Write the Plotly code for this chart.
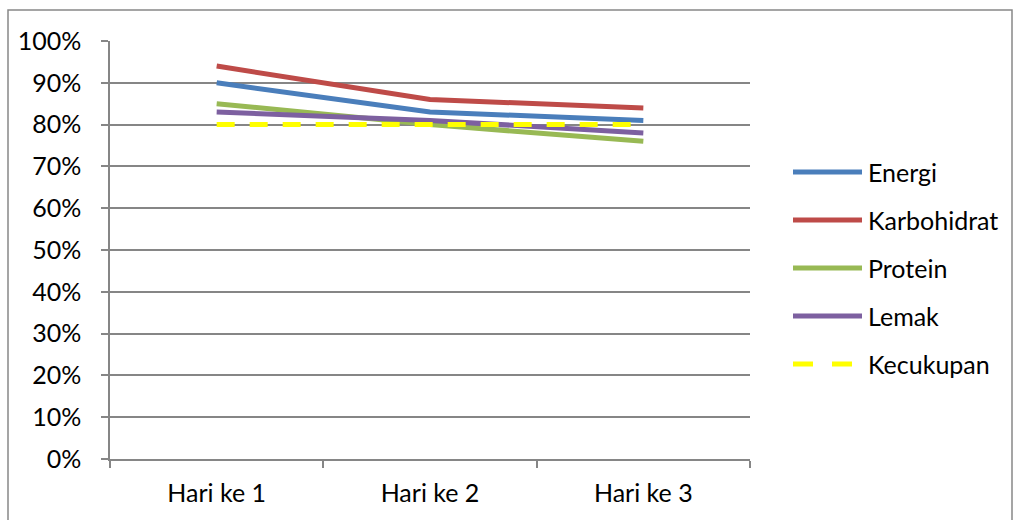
import plotly.graph_objects as go

# Persentase kecukupan gizi per hari
hari = ["Hari ke 1", "Hari ke 2", "Hari ke 3"]
energi = [0.90, 0.83, 0.81]
karbohidrat = [0.94, 0.86, 0.84]
protein = [0.85, 0.80, 0.76]
lemak = [0.83, 0.81, 0.78]
kecukupan = [0.80, 0.80, 0.80]

series_names = ["Energi", "Karbohidrat", "Protein", "Lemak", "Kecukupan"]
series_values = [energi, karbohidrat, protein, lemak, kecukupan]
series_colors = ["#4A7EBB", "#BE4B48", "#98B954", "#7D60A0", "#FFFF00"]
series_dash = ["solid", "solid", "solid", "solid", "18px,15px"]

FONT = "Lato"
FSIZE = 25
GRID = "#868686"

W, H = 1013, 520
L, R, T, B = 110, 263, 41, 61
plot_w, plot_h = W - L - R, H - T - B

fig = go.Figure()
for name, vals, col, dash in zip(series_names, series_values, series_colors, series_dash):
    fig.add_trace(go.Scatter(
        x=hari, y=vals, name=name, mode="lines",
        line=dict(color=col, width=5, dash=dash),
        showlegend=False,
    ))

# Legend drawn by hand: long line samples with labels to the right
leg_x0, leg_x1, leg_text = 793, 862, 866
leg_y = [172, 220, 268, 316, 364]
for name, col, dash, yp in zip(series_names, series_colors, series_dash, leg_y):
    py = (H - B - yp) / plot_h
    fig.add_shape(type="line", xref="paper", yref="paper",
                  x0=(leg_x0 - L) / plot_w, x1=(leg_x1 - L) / plot_w, y0=py, y1=py,
                  line=dict(color=col, width=5,
                            dash="20px,19px" if dash != "solid" else "solid"))
    fig.add_annotation(xref="paper", yref="paper",
                       x=(leg_text - L) / plot_w, y=py, text=name,
                       showarrow=False, xanchor="left", yanchor="middle",
                       font=dict(family=FONT, size=FSIZE, color="#000000"))

# Outer chart frame
fig.add_shape(type="rect", xref="paper", yref="paper",
              x0=(8 - L) / plot_w, x1=(1012 - L) / plot_w,
              y0=(H - B - 540) / plot_h, y1=(H - B - 10) / plot_h,
              line=dict(color="#888888", width=1.5), fillcolor="rgba(0,0,0,0)", layer="below")

fig.update_layout(
    width=W, height=H,
    margin=dict(l=L, r=R, t=T, b=B),
    paper_bgcolor="white", plot_bgcolor="white",
    font=dict(family=FONT, size=FSIZE, color="#000000"),
    xaxis=dict(
        type="category", range=[-0.5, 2.5],
        showline=True, linecolor=GRID, linewidth=1.5,
        ticks="outside", tickson="boundaries", ticklen=7, tickcolor=GRID, tickwidth=1.5,
        showgrid=False, zeroline=False, ticklabelstandoff=11,
        tickfont=dict(family=FONT, size=FSIZE),
    ),
    yaxis=dict(
        range=[0, 1.0], dtick=0.1, tickformat=".0%",
        showline=True, linecolor=GRID, linewidth=1.5,
        ticks="outside", ticklen=7, tickcolor=GRID, tickwidth=1.5,
        showgrid=True, gridcolor=GRID, gridwidth=1.5, zeroline=False,
        ticklabelstandoff=15,
        tickfont=dict(family=FONT, size=FSIZE),
    ),
)

fig.write_html("out.html")
